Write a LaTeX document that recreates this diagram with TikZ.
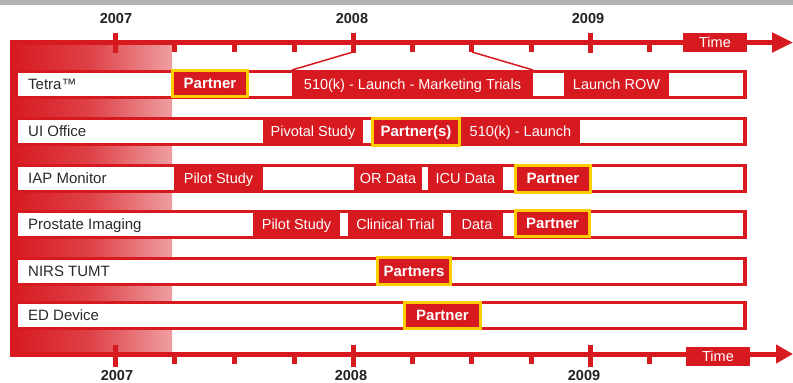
\documentclass[tikz,border=0pt]{standalone}
\usepackage{fontspec}
\setmainfont{Liberation Sans}
\usetikzlibrary{arrows.meta}
\definecolor{myred}{HTML}{D71920}
\definecolor{myyellow}{HTML}{FFCC00}
\definecolor{topgray}{HTML}{B3B3B3}
\definecolor{labelgray}{HTML}{2A2A2A}
\definecolor{yeargray}{HTML}{222222}
\begin{document}
\begin{tikzpicture}[x=1pt,y=-1pt,
  rowframe/.style={fill=myred, inner sep=0, outer sep=0, minimum width=737, minimum height=29},
  rowinner/.style={fill=white, inner sep=0, outer sep=0, minimum width=725, minimum height=23},
  lbl/.style={anchor=west, inner sep=0, text=labelgray, text height=10.7, text depth=0, font=\fontsize{15}{17}\selectfont},
  seg/.style={fill=myred, text=white, inner sep=0, outer sep=0, minimum height=23, text height=10.4, text depth=0, font=\fontsize{14.5}{17}\selectfont},
  partner/.style={fill=myred, draw=myyellow, line width=3, text=white, inner sep=0, outer sep=0, text height=10.7, text depth=0, font=\bfseries\fontsize{15}{17}\selectfont},
  axisline/.style={myred, line width=5},
  tickline/.style={myred, line width=5},
  callout/.style={myred, line width=1.5},
  year/.style={text=yeargray, inner sep=0, font=\bfseries\fontsize{14.5}{17}\selectfont},
  timebox/.style={fill=myred, text=white, inner sep=0, minimum width=64, minimum height=19, text height=10.4, text depth=0, font=\fontsize{14.5}{17}\selectfont}
]
\useasboundingbox (0,0) rectangle (793,383);
% top gray bar
\fill[topgray] (0,0) rectangle (793,5);
% gradient band
\shade[left color=myred, right color=myred!42, middle color=myred!82] (10,42.5) rectangle (172,354);

% rows
\node[rowframe] (rTetra) at (378.5,84) {};
\node[rowinner] (iTetra) at (380.5,84) {};
\node[lbl] (lTetra) at (28,84) {Tetra™};
\node[seg, minimum width=241] (tMkt) at (412.5,84) {510(k) - Launch - Marketing Trials};
\node[seg, minimum width=105] (tRow) at (616.5,84) {Launch ROW};
\node[partner, minimum width=75, minimum height=26] (tP) at (210,83.5) {Partner};

\node[rowframe] (rUI) at (378.5,131.5) {};
\node[rowinner] (iUI) at (380.5,131.5) {};
\node[lbl] (lUI) at (28,131.5) {UI Office};
\node[seg, minimum width=100] (uPiv) at (313,131.5) {Pivotal Study};
\node[seg, minimum width=119] (uLaunch) at (520.5,131.5) {510(k) - Launch};
\node[partner, minimum width=87, minimum height=27] (uP) at (416,131.5) {Partner(s)};

\node[rowframe] (rIAP) at (378.5,178) {};
\node[rowinner] (iIAP) at (380.5,178) {};
\node[lbl] (lIAP) at (28,178) {IAP Monitor};
\node[seg, minimum width=89] (aPilot) at (218.5,178) {Pilot Study};
\node[seg, minimum width=68] (aOR) at (388,178) {OR Data};
\node[seg, minimum width=75] (aICU) at (465.5,178) {ICU Data};
\node[partner, minimum width=75, minimum height=27] (aP) at (553,178.5) {Partner};

\node[rowframe] (rPro) at (378.5,224) {};
\node[rowinner] (iPro) at (380.5,224) {};
\node[lbl] (lPro) at (28,224) {Prostate Imaging};
\node[seg, minimum width=87] (pPilot) at (296.5,224) {Pilot Study};
\node[seg, minimum width=95] (pClin) at (395.5,224) {Clinical Trial};
\node[seg, minimum width=52] (pData) at (477,224) {Data};
\node[partner, minimum width=74, minimum height=26] (pP) at (552.5,223.5) {Partner};

\node[rowframe] (rNIRS) at (378.5,271.5) {};
\node[rowinner] (iNIRS) at (380.5,271.5) {};
\node[lbl] (lNIRS) at (28,271.5) {NIRS TUMT};
\node[partner, minimum width=73, minimum height=27] (nP) at (414,271) {Partners};

\node[rowframe] (rED) at (378.5,315.5) {};
\node[rowinner] (iED) at (380.5,315.5) {};
\node[lbl] (lED) at (28,315.5) {ED Device};
\node[partner, minimum width=76, minimum height=26] (eP) at (442.5,315.5) {Partner};

% axes
\coordinate (axA0) at (10,42.5);
\coordinate (axA1) at (793,42.5);
\coordinate (axB0) at (10,354);
\coordinate (axB1) at (793,354);
\draw[axisline, -{Triangle[length=21pt, width=19pt]}] (axA0) -- (axA1);
\draw[axisline, -{Triangle[length=17pt, width=18pt]}] (axB0) -- (axB1);

% ticks
\foreach \x in {115,353,590} {
  \draw[tickline] (\x,33) -- (\x,53);
  \draw[tickline] (\x,345) -- (\x,367);
}
\foreach \x in {174,234,294,412,471,531,649} {
  \draw[tickline] (\x,42) -- (\x,52);
  \draw[tickline] (\x,354) -- (\x,364);
}

% time boxes
\node[timebox] (timeA) at (715,42.5) {Time};
\node[timebox] (timeB) at (718,356.5) {Time};

% years
\node[year] (y07a) at (116,19) {2007};
\node[year] (y08a) at (352,19) {2008};
\node[year] (y09a) at (588,19) {2009};
\node[year] (y07b) at (117,376) {2007};
\node[year] (y08b) at (351,376) {2008};
\node[year] (y09b) at (584,376) {2009};

% callout lines
\coordinate (cA) at (353,52);
\coordinate (cB) at (472,52);
\draw[callout] (cA) -- ([yshift=2.5pt]tMkt.north west);
\draw[callout] (cB) -- ([yshift=2.5pt]tMkt.north east);
\end{tikzpicture}
\end{document}
